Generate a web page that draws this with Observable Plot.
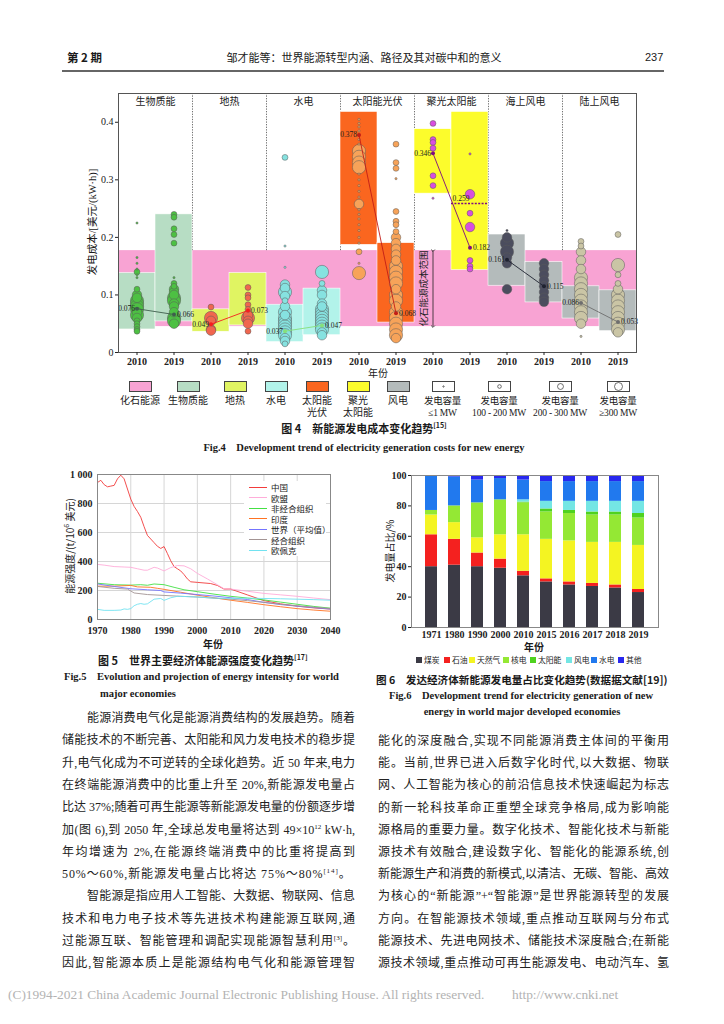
<!DOCTYPE html>
<html><head><meta charset="utf-8">
<script src="https://cdn.jsdelivr.net/npm/d3@7"></script>
<script src="https://cdn.jsdelivr.net/npm/@observablehq/plot@0.6"></script>
<style>
html,body{margin:0;padding:0;background:#fff;}
#page{position:relative;width:724px;height:1024px;overflow:hidden;font-family:"Liberation Serif","Noto Sans CJK SC",serif;color:#1a1a1a;}
.a{position:absolute;white-space:nowrap;}
.ln{position:absolute;font-size:12px;line-height:16px;height:16px;text-align:justify;text-align-last:justify;font-family:"Liberation Serif","Noto Sans CJK SC",serif;color:#222;}
sup{font-size:7px;vertical-align:5px;line-height:0}
svg{overflow:visible}
</style></head>
<body><div id="page"></div>
<script>
// ================= Fig 4 data =================
const groups4 = ["生物质能","地热","水电","太阳能光伏","聚光太阳能","海上风电","陆上风电"];
const years4 = ["2010","2019"];
const fossilRange = [0.045, 0.177];
const range2010 = [[0.040,0.138],[0.036,0.075],[0.018,0.083],[0.187,0.418],[0.276,0.388],[0.116,0.205],[0.059,0.115]];
const range2019 = [[0.054,0.240],[0.047,0.138],[0.030,0.111],[0.052,0.190],[0.143,0.418],[0.087,0.157],[0.037,0.108]];
const mean2010 = [0.076,0.049,0.037,0.378,0.346,0.161,0.086];
const mean2019 = [0.066,0.073,0.047,0.068,0.182,0.115,0.053];
const cspMid2019 = 0.259;
// bubbles: [cost USD/kWh, capacity class 1:<=1MW 2:100-200MW 3:200-300MW 4:>=300MW]
const bio2010 = [[0.225,1],[0.165,1],[0.155,1],[0.145,1],[0.140,2],[0.135,1],[0.130,1],[0.110,2],[0.100,3],[0.095,3],[0.090,4],[0.085,4],[0.080,4],[0.075,4],[0.070,3],[0.065,4],[0.060,3],[0.055,2],[0.050,2],[0.045,2],[0.040,2],[0.037,2]];
const bio2019 = [[0.240,2],[0.235,2],[0.215,2],[0.205,2],[0.190,2],[0.130,1],[0.120,2],[0.115,2],[0.110,3],[0.105,3],[0.100,3],[0.095,4],[0.090,4],[0.085,3],[0.080,3],[0.070,3],[0.060,4],[0.055,4],[0.050,3]];
const geo2010 = [[0.079,2],[0.060,4],[0.055,3],[0.040,3],[0.038,3]];
const geo2019 = [[0.113,2],[0.100,2],[0.095,2],[0.083,2],[0.075,2],[0.065,3],[0.060,4],[0.055,3],[0.050,3],[0.037,2]];
const hyd2010 = [[0.339,2],[0.185,1],[0.148,1],[0.118,3],[0.112,3],[0.105,4],[0.098,3],[0.090,2],[0.080,3],[0.070,4],[0.065,3],[0.060,4],[0.055,4],[0.050,4],[0.045,4],[0.040,4],[0.035,4],[0.030,4],[0.025,3],[0.020,3],[0.015,2]];
const hyd2019 = [[0.140,4],[0.120,2],[0.108,3],[0.100,3],[0.085,3],[0.080,3],[0.075,4],[0.070,4],[0.065,4],[0.060,4],[0.055,4],[0.050,4],[0.045,4],[0.040,4],[0.035,3],[0.030,3]];
const pv2010 = [[0.405,1],[0.398,1],[0.392,1],[0.385,1],[0.370,1],[0.362,1],[0.350,4],[0.340,4],[0.330,4],[0.322,4],[0.310,1],[0.300,1],[0.290,1],[0.280,1],[0.270,1],[0.258,3],[0.248,1],[0.240,1],[0.232,1],[0.222,1],[0.212,1],[0.200,1],[0.190,1],[0.175,2],[0.155,1],[0.138,4]];
const pv2019 = [[0.362,2],[0.330,2],[0.320,2],[0.302,1],[0.245,2],[0.228,2],[0.222,2],[0.210,2],[0.200,3],[0.190,3],[0.180,3],[0.170,3],[0.160,3],[0.150,4],[0.140,4],[0.130,4],[0.120,4],[0.110,3],[0.100,4],[0.090,4],[0.080,3],[0.070,4],[0.060,4],[0.050,4],[0.040,4],[0.030,4],[0.025,3]];
const csp2010 = [[0.398,2],[0.370,2],[0.365,2],[0.355,2],[0.307,2],[0.290,2],[0.268,1]];
const csp2019 = [[0.345,1],[0.275,3],[0.242,2],[0.218,3],[0.160,2],[0.150,2],[0.145,2]];
const off2010 = [[0.212,1],[0.200,3],[0.190,4],[0.175,4],[0.165,3],[0.155,3],[0.110,3]];
const off2019 = [[0.155,3],[0.145,3],[0.135,3],[0.125,3],[0.115,3],[0.105,3],[0.095,3],[0.088,3]];
const on2010 = [[0.193,2],[0.185,2],[0.175,3],[0.160,3],[0.145,3],[0.130,4],[0.120,4],[0.110,4],[0.100,4],[0.090,4],[0.080,4],[0.070,4],[0.060,4],[0.050,3],[0.028,1]];
const on2019 = [[0.205,2],[0.152,4],[0.135,2],[0.120,2],[0.110,3],[0.100,4],[0.090,4],[0.080,4],[0.070,4],[0.060,4],[0.050,4],[0.040,4],[0.035,3]];
const capacityLabels = ["发电容量<br>≤1 MW","发电容量<br>100 - 200 MW","发电容量<br>200 - 300 MW","发电容量<br>≥300 MW"];
const typeLegend = ["化石能源","生物质能","地热","水电","太阳能<br>光伏","聚光<br>太阳能","风电"];

// ================= Fig 5 data =================
const china = [[1970,945],[1971,960],[1972,930],[1973,915],[1974,920],[1975,925],[1976,970],[1977,995],[1978,970],[1979,900],[1980,830],[1981,780],[1982,745],[1983,705],[1984,640],[1985,580],[1986,555],[1987,530],[1988,505],[1989,490],[1990,503],[1991,455],[1992,405],[1993,365],[1994,350],[1995,335],[1996,310],[1997,280],[1998,260],[1999,258],[2000,256],[2002,252],[2004,248],[2006,235],[2008,210],[2010,210],[2015,170],[2020,130],[2025,108],[2030,92],[2035,80],[2040,72]];
const eu = [[1970,380],[1972,375],[1975,365],[1978,362],[1980,360],[1982,350],[1984,340],[1985,340],[1987,360],[1988,355],[1990,335],[1992,358],[1994,372],[1996,370],[1998,350],[2000,318],[2003,280],[2006,240],[2008,212],[2010,210],[2015,195],[2020,180],[2025,170],[2030,160],[2035,148],[2040,137]];
const nonOecd = [[1970,250],[1975,240],[1980,237],[1983,240],[1985,236],[1987,245],[1990,240],[1993,222],[1996,205],[2000,192],[2005,175],[2010,160],[2015,148],[2020,135],[2025,120],[2030,105],[2035,90],[2040,78]];
const india = [[1970,230],[1975,230],[1980,235],[1982,225],[1986,222],[1988,215],[1990,208],[1995,188],[2000,168],[2005,150],[2010,133],[2015,118],[2020,102],[2025,88],[2030,75],[2035,65],[2040,57]];
const world = [[1970,245],[1975,228],[1980,212],[1985,205],[1989,200],[1990,190],[1995,182],[2000,172],[2005,162],[2010,150],[2015,138],[2020,118],[2025,103],[2030,92],[2035,82],[2040,72]];
const oecd = [[1970,228],[1975,215],[1979,210],[1981,183],[1985,172],[1990,166],[1995,160],[2000,155],[2005,147],[2010,140],[2015,130],[2020,118],[2025,105],[2030,95],[2035,85],[2040,76]];
const opec = [[1970,70],[1972,63],[1975,63],[1977,65],[1978,73],[1979,70],[1980,75],[1981,95],[1982,105],[1983,110],[1984,105],[1985,108],[1987,140],[1989,145],[1990,132],[1992,150],[1994,160],[1997,158],[2000,155],[2005,148],[2010,145],[2015,147],[2020,145],[2025,143],[2030,140],[2035,137],[2040,133]];
const seriesNames5 = ["中国","欧盟","非经合组织","印度","世界（平均值）","经合组织","欧佩克"];
const years5Ticks = [1970,1980,1990,2000,2010,2020,2030,2040];
const values5Ticks = [0,200,400,600,800,1000];

// ================= Fig 6 data =================
const years6 = ["1971","1980","1990","2000","2010","2015","2016","2017","2018","2019"];
const sources6 = ["煤炭","石油","天然气","核电","太阳能","风电","水电","其他"];
const coal = [40,41,40,39,34,30,28,27,26,23];
const oil = [21,17,9,6,3,2,2,2,2,2];
const gas = [13,11,10,16,24,26,27,27,28,29];
const nuclear = [3,11,23,23,21,18,18,18,18,18];
const solar = [0,0,0,0,0.5,2,2,2,2,3];
const wind = [0,0,0,0,1.5,5,6,7,7,8];
const hydro = [23,19,15,14,13,13,13,13,13,13];
const other = [0,1,3,2,3,4,4,4,4,4];

// ================= helpers =================
const page = document.getElementById("page");
const SERIF = '"Liberation Serif","Noto Sans CJK SC",serif';
const SANS = '"Noto Sans CJK SC","Liberation Sans",sans-serif';
function put(html, css, parent) {
  const d = document.createElement("div");
  d.className = "a";
  d.innerHTML = html;
  Object.assign(d.style, css);
  (parent || page).appendChild(d);
  return d;
}
function box(el, left, top) {
  const d = document.createElement("div");
  d.style.position = "absolute"; d.style.left = left + "px"; d.style.top = top + "px";
  d.appendChild(el); page.appendChild(d); return d;
}

// ================= header =================
put("第 2 期", {left:"67px", top:"50px", fontSize:"11.5px", lineHeight:"14px", fontFamily:SANS, fontWeight:"bold"});
put("邹才能等：世界能源转型内涵、路径及其对碳中和的意义", {left:"364px", top:"50px", transform:"translateX(-50%)", fontSize:"11px", lineHeight:"14px", fontFamily:SANS});
put("237", {left:"645px", top:"50px", fontSize:"11px", lineHeight:"14px", fontFamily:'"Liberation Sans",sans-serif'});
put("", {left:"62px", top:"70px", width:"602px", height:"1.5px", background:"#666"});

// ================= Fig 4 =================
const rectFill = ["#b7ddc4","#e0f462","#b2f3ea","#fa661f","#fcfc2c","#b4bbbb","#b4bbbb"];
const dotFill = ["#4dc043","#f0664e","#86e2e0","#f7a359","#d84fdf","#4b4d5e","#cac5a5"];
const lineStroke = ["#3e5e4c","#f51e1e","#86e07a","#c21d16","#7d0a80","#1f2230","#6e6e6e"];
const fossilFill = "#f8a3d3";
const bubbleSets = [[bio2010,bio2019],[geo2010,geo2019],[hyd2010,hyd2019],[pv2010,pv2019],[csp2010,csp2019],[off2010,off2019],[on2010,on2019]];
const bubbles = [];
bubbleSets.forEach((pair, gi) => pair.forEach((list, yi) => {
  list.slice().sort((a,b)=>b[1]-a[1]).forEach(([cost, cap]) => bubbles.push({g:gi, x:gi*2+yi+0.5, cost, cap}));
}));
const colRects = [];
groups4.forEach((g, gi) => {
  colRects.push({g:gi, x1:gi*2, x2:gi*2+1, y1:range2010[gi][0], y2:range2010[gi][1]});
  colRects.push({g:gi, x1:gi*2+1, x2:gi*2+2, y1:range2019[gi][0], y2:range2019[gi][1]});
});
const means = [];
groups4.forEach((g, gi) => {
  means.push({g:gi, x:gi*2+0.5, y:mean2010[gi], side:0});
  means.push({g:gi, x:gi*2+1.5, y:mean2019[gi], side:1});
});
const cspIdx = groups4.indexOf("聚光太阳能");
const nCols = groups4.length*2;

const fig4 = Plot.plot({
  width:570, height:280, marginLeft:42, marginRight:10, marginTop:5, marginBottom:16,
  x:{domain:[0,nCols]},
  y:{domain:[0,0.45]},
  r:{type:"linear", domain:[1,4], range:[1.1,6.6]},
  color:{type:"identity"},
  style:{fontFamily:SERIF, fontSize:"10px", background:"transparent", color:"#222"},
  marks:[
    Plot.rect([fossilRange], {x1:0, x2:nCols, y1:d=>d[0], y2:d=>d[1], fill:fossilFill}),
    Plot.ruleX(d3.range(1, groups4.length).map(i=>2*i), {y1:fossilRange[1], y2:0.45, stroke:"#333", strokeWidth:0.7, strokeDasharray:"1.3,1.3"}),
    Plot.rect(colRects, {x1:"x1", x2:"x2", y1:"y1", y2:"y2", fill:d=>rectFill[d.g], stroke:"#fff", strokeWidth:0.6}),
    Plot.dot(bubbles, {x:"x", y:"cost", r:"cap", fill:d=>dotFill[d.g], stroke:"#5a5a5a", strokeWidth:0.5}),
    Plot.line(means, {x:"x", y:"y", z:"g", stroke:d=>lineStroke[d.g], strokeWidth:0.9}),
    Plot.dot(means, {x:"x", y:"y", r:2, fill:d=>lineStroke[d.g], stroke:"none"}),
    Plot.text(means.filter(d=>d.side===0), {x:"x", y:"y", text:d=>d.y.toFixed(3), textAnchor:"end", dx:-2, fontSize:7.5}),
    Plot.text(means.filter(d=>d.side===1), {x:"x", y:"y", text:d=>d.y.toFixed(3), textAnchor:"start", dx:3, fontSize:7.5}),
    Plot.ruleY([cspMid2019], {x1:cspIdx*2+1, x2:cspIdx*2+2, stroke:lineStroke[cspIdx], strokeWidth:1.4, strokeDasharray:"2,1.4"}),
    Plot.text([cspMid2019], {x:cspIdx*2+1, y:d=>d, text:d=>d.toFixed(3), textAnchor:"start", dx:1, dy:-5, fontSize:7.5}),
    Plot.link([fossilRange], {x1:cspIdx*2+0.5, x2:cspIdx*2+0.5, y1:d=>d[1], y2:d=>d[0], stroke:"#222", strokeWidth:0.8, markerStart:"arrow", markerEnd:"arrow"}),
    Plot.text([fossilRange], {x:cspIdx*2+0.25, y:d=>(d[0]+d[1])/2, text:()=>"化石能源成本范围", rotate:-90, fontSize:9.5, fontFamily:SANS}),
    Plot.text(groups4, {x:(d,i)=>2*i+1, y:0.436, text:d=>d, fontSize:10, fontFamily:SANS}),
    Plot.frame({stroke:"#555", strokeWidth:1}),
    Plot.axisY({ticks:[0,0.1,0.2,0.3,0.4], tickFormat:d=>d===0?"0":d.toFixed(1), tickSize:3, tickPadding:2, label:null, fontSize:10}),
    Plot.axisX({ticks:d3.range(nCols).map(i=>i+0.5), tickFormat:t=>years4[Math.floor(t)%2], tickSize:3, tickPadding:2, label:null, fontSize:10, fontWeight:"bold"})
  ]
});
box(fig4, 76, 88);
put("发电成本/[美元/(kW·h)]", {left:"91px", top:"222px", transform:"translate(-50%,-50%) rotate(-90deg)", fontSize:"10.5px", fontFamily:SERIF});
put("年份", {left:"378px", top:"372px", transform:"translate(-50%,-50%)", fontSize:"10px", fontFamily:SANS});

// legend fig 4
const legX = [140,188,235,276,317,358,398,442.5,499,560,618];
const legFills = [fossilFill, rectFill[0], rectFill[1], rectFill[2], rectFill[3], rectFill[4], rectFill[5]];
const rScale = fig4.scale("r");
typeLegend.forEach((lab, i) => {
  put("", {left:(legX[i]-11)+"px", top:"381px", width:"21px", height:"9px", background:legFills[i], border:"0.8px solid #444"});
  put(lab, {left:legX[i]+"px", top:"395px", transform:"translateX(-50%)", fontSize:"10px", lineHeight:"12px", textAlign:"center", fontFamily:SERIF});
});
capacityLabels.forEach((lab, k) => {
  const i = typeLegend.length + k;
  const rr = Math.min(4, rScale.apply(k+1)*0.62);
  put(`<svg width="21" height="9" style="position:absolute;left:0;top:0"><circle cx="10.5" cy="4.5" r="${rr}" fill="#fff" stroke="#333" stroke-width="0.7"/></svg>`,
      {left:(legX[i]-11)+"px", top:"381px", width:"21px", height:"9px", background:"#fff", border:"0.8px solid #444"});
  put(lab, {left:legX[i]+"px", top:"395px", transform:"translateX(-50%)", fontSize:"9.5px", lineHeight:"12px", textAlign:"center", fontFamily:SERIF, letterSpacing:"-0.2px"});
});
put("图 4　新能源发电成本变化趋势<sup>[15]</sup>", {left:"364px", top:"428px", transform:"translate(-50%,-50%)", fontSize:"11px", fontWeight:"bold", fontFamily:SANS});
put("Fig.4　Development trend of electricity generation costs for new energy", {left:"364px", top:"446px", transform:"translate(-50%,-50%)", fontSize:"10.5px", fontWeight:"bold", fontFamily:SERIF});

// ================= Fig 5 =================
const colors5 = ["#f23b3b","#ffadd9","#44e044","#ff7322","#7474ff","#a39494","#72e2f0"];
const seriesData5 = [china, eu, nonOecd, india, world, oecd, opec];
const energy = [];
seriesData5.forEach((s, i) => s.forEach(([year, value]) => energy.push({name:seriesNames5[i], year, value})));
const fig5 = Plot.plot({
  width:290, height:168, marginLeft:47, marginRight:10, marginTop:9, marginBottom:14,
  x:{domain:[1970,2040]}, y:{domain:[0,1000]},
  color:{domain:seriesNames5, range:colors5},
  style:{fontFamily:SERIF, fontSize:"10px", background:"transparent", color:"#222"},
  marks:[
    Plot.gridX(years5Ticks.slice(1,-1), {stroke:"#d6d6d6", strokeOpacity:1}),
    Plot.gridY(values5Ticks.slice(1,-1), {stroke:"#d6d6d6", strokeOpacity:1}),
    Plot.line(energy, {x:"year", y:"value", z:"name", stroke:"name", strokeWidth:0.9}),
    Plot.frame({stroke:"#888"}),
    Plot.axisX({ticks:years5Ticks, tickFormat:d=>String(d), tickSize:0, tickPadding:7, label:null, fontSize:10, fontWeight:"bold"}),
    Plot.axisY({ticks:values5Ticks, tickFormat:d=>d>=1000?"1 000":String(d), tickSize:0, tickPadding:5, label:null, fontSize:10, fontWeight:"bold"})
  ]
});
box(fig5, 50, 465);
// legend fig 5
put("", {left:"244px", top:"481px", width:"82px", height:"75px", background:"#fff"});
seriesNames5.forEach((n, i) => {
  const y = 487 + i*10.5;
  put("", {left:"249px", top:(y-0.5)+"px", width:"18px", height:"1px", background:colors5[i]});
  put(n, {left:"271px", top:(y-6)+"px", fontSize:"8.5px", lineHeight:"12px", fontFamily:SANS});
});
put("能源强度/(t/10<sup>6</sup> 美元)", {left:"69px", top:"546px", transform:"translate(-50%,-50%) rotate(-90deg)", fontSize:"10px", fontFamily:SANS});
put("年份", {left:"213px", top:"643px", transform:"translate(-50%,-50%)", fontSize:"10px", fontFamily:SANS, fontWeight:"bold"});
put("图 5　世界主要经济体能源强度变化趋势<sup>[17]</sup>", {left:"98px", top:"653px", fontSize:"11px", lineHeight:"14px", fontWeight:"bold", fontFamily:SANS});
put("Fig.5　Evolution and projection of energy intensity for world", {left:"64px", top:"670px", fontSize:"10.5px", lineHeight:"14px", fontWeight:"bold", fontFamily:SERIF});
put("major economies", {left:"100px", top:"687px", fontSize:"10.5px", lineHeight:"14px", fontWeight:"bold", fontFamily:SERIF});

// ================= Fig 6 =================
const colors6 = ["#3b3a45","#f4211f","#f4f422","#94e834","#4fd21f","#74e6e4","#2179ee","#2828ef"];
const seriesData6 = [coal, oil, gas, nuclear, solar, wind, hydro, other];
const mix = [];
years6.forEach((yr, j) => sources6.forEach((s, i) => mix.push({year:yr, source:s, value:seriesData6[i][j]})));
const fig6 = Plot.plot({
  width:285, height:175, marginLeft:31, marginRight:7, marginTop:7, marginBottom:16,
  x:{domain:years6, padding:0.5}, y:{domain:[0,100]},
  color:{domain:sources6, range:colors6},
  style:{fontFamily:SERIF, fontSize:"10px", background:"transparent", color:"#222"},
  marks:[
    Plot.barY(mix, {x:"year", y:"value", fill:"source", order:sources6}),
    Plot.frame({stroke:"#888"}),
    Plot.axisX({tickSize:0, tickPadding:3, label:null, fontSize:10, fontWeight:"bold"}),
    Plot.axisY({ticks:[0,20,40,60,80,100], tickSize:3, tickPadding:2, label:null, fontSize:10, fontWeight:"bold"})
  ]
});
box(fig6, 380, 468);
put("发电量占比/%", {left:"389px", top:"551px", transform:"translate(-50%,-50%) rotate(-90deg)", fontSize:"10px", fontFamily:SANS});
put("年份", {left:"534px", top:"646px", transform:"translate(-50%,-50%)", fontSize:"10px", fontFamily:SANS, fontWeight:"bold"});
const leg6X = [416,444,469,503,530,566,591,618];
sources6.forEach((s, i) => {
  put("", {left:leg6X[i]+"px", top:"657px", width:"6px", height:"6px", background:colors6[i]});
  put(s, {left:(leg6X[i]+8)+"px", top:"654px", fontSize:"7.8px", lineHeight:"12px", fontFamily:SANS});
});
put("图 6　发达经济体新能源发电量占比变化趋势(数据据文献[19])", {left:"376px", top:"673px", fontSize:"10.6px", lineHeight:"14px", fontWeight:"bold", fontFamily:SANS});
put("Fig.6　Development trend for electricity generation of new", {left:"389px", top:"689px", fontSize:"10.5px", lineHeight:"14px", fontWeight:"bold", fontFamily:SERIF});
put("energy in world major developed economies", {left:"522px", top:"712px", transform:"translate(-50%,-50%)", fontSize:"10.5px", lineHeight:"14px", fontWeight:"bold", fontFamily:SERIF});

// ================= body text =================
const leftLines = [
  [1,"能源消费电气化是能源消费结构的发展趋势。随着"],
  [0,"储能技术的不断完善、太阳能和风力发电技术的稳步提"],
  [0,"升,电气化成为不可逆转的全球化趋势。近 50 年来,电力"],
  [0,"在终端能源消费中的比重上升至 20%,新能源发电量占"],
  [0,"比达 37%;随着可再生能源等新能源发电量的份额逐步增"],
  [0,"加(图 6),到 2050 年,全球总发电量将达到 49×10<sup>12</sup> kW·h,"],
  [0,"年均增速为 2%,在能源终端消费中的比重将提高到"],
  [2,"50%～60%,新能源发电量占比将达 75%～80%<sup>[14]</sup>。"],
  [1,"智能源是指应用人工智能、大数据、物联网、信息"],
  [0,"技术和电力电子技术等先进技术构建能源互联网,通"],
  [0,"过能源互联、智能管理和调配实现能源智慧利用<sup>[3]</sup>。"],
  [0,"因此,智能源本质上是能源结构电气化和能源管理智"]
];
const rightLines = [
  "能化的深度融合,实现不同能源消费主体间的平衡用",
  "能。当前,世界已进入后数字化时代,以大数据、物联",
  "网、人工智能为核心的前沿信息技术快速崛起为标志",
  "的新一轮科技革命正重塑全球竞争格局,成为影响能",
  "源格局的重要力量。数字化技术、智能化技术与新能",
  "源技术有效融合,建设数字化、智能化的能源系统,创",
  "新能源生产和消费的新模式,以清洁、无碳、智能、高效",
  "为核心的“新能源”+“智能源”是世界能源转型的发展",
  "方向。在智能源技术领域,重点推动互联网与分布式",
  "能源技术、先进电网技术、储能技术深度融合;在新能",
  "源技术领域,重点推动可再生能源发电、电动汽车、氢"
];
leftLines.forEach(([mode, txt], i) => {
  const d = document.createElement("div");
  d.className = "ln";
  const indent = mode === 1 ? 25 : 0;
  d.style.left = (62 + indent) + "px";
  d.style.width = (293 - indent) + "px";
  d.style.top = (710 + i*22.3) + "px";
  if (mode === 2) { d.style.textAlignLast = "left"; d.style.letterSpacing = "0.9px"; }
  d.innerHTML = txt;
  page.appendChild(d);
});
rightLines.forEach((txt, i) => {
  const d = document.createElement("div");
  d.className = "ln";
  d.style.left = "378px"; d.style.width = "291px";
  d.style.top = (733 + i*22.2) + "px";
  d.innerHTML = txt;
  page.appendChild(d);
});

// footer
put("(C)1994-2021 China Academic Journal Electronic Publishing House. All rights reserved.", {left:"8px", top:"987px", fontSize:"13.4px", lineHeight:"16px", color:"#b3b3b3", fontFamily:'"Liberation Serif",serif'});
put("http://www.cnki.net", {left:"512px", top:"987px", fontSize:"13.4px", lineHeight:"16px", color:"#b3b3b3", fontFamily:'"Liberation Serif",serif'});
</script></body></html>
